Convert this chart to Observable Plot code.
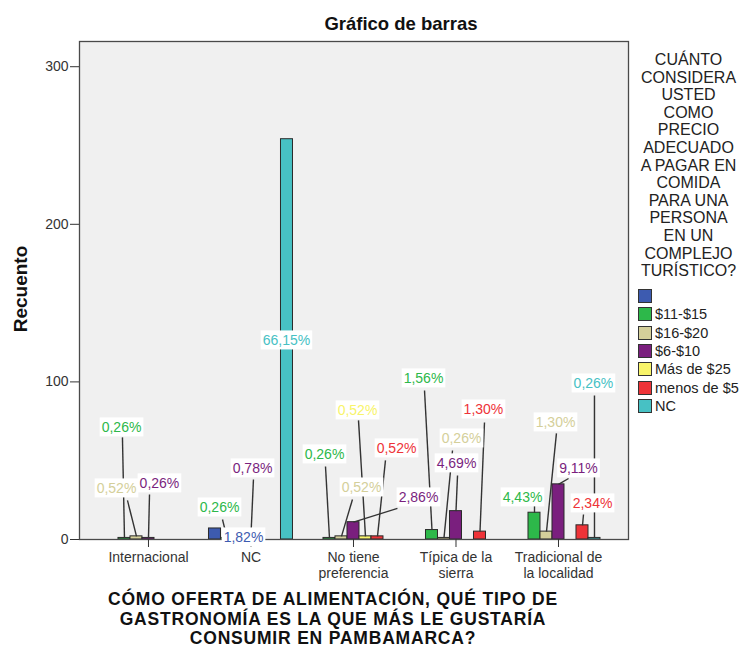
<!DOCTYPE html>
<html>
<head>
<meta charset="utf-8">
<script src="https://cdn.jsdelivr.net/npm/d3@7"></script>
<script src="https://cdn.jsdelivr.net/npm/@observablehq/plot@0.6"></script>
<style>
  body { margin: 0; background: #fff; font-family: Arial, "Liberation Sans", sans-serif; }
  #wrap { position: relative; width: 743px; height: 650px; overflow: hidden; }
  #wrap svg { position: absolute; left: 0; top: 0; }
  #title { position: absolute; left: 251px; width: 300px; top: 15px; text-align: center; font-weight: bold; font-size: 18.5px; line-height: 18.5px; color: #111; white-space: nowrap; }
  #ylab { position: absolute; left: 21px; top: 289px; transform: translate(-50%, -50%) rotate(-90deg); font-weight: bold; font-size: 19px; color: #111; white-space: nowrap; }
  #xtitle { position: absolute; left: 33px; width: 600px; top: 590px; text-align: center; font-weight: bold; font-size: 17.5px; line-height: 19.6px; letter-spacing: 0.8px; color: #111; white-space: nowrap; }
  #legend { position: absolute; left: 630px; width: 113px; top: 51px; color: #222; }
  #legend .lt { text-align: center; font-size: 16px; line-height: 17.6px; margin-left: 4px; white-space: nowrap; }
  #legend .items { position: absolute; top: 236px; left: 8px; }
  #legend .it { height: 18.3px; display: flex; align-items: center; font-size: 14.5px; white-space: nowrap; }
  #legend .sw { width: 12px; height: 12px; border: 1px solid #333; margin-right: 3px; flex: none; }
</style>
</head>
<body>
<div id="wrap">
  <div id="title">Gráfico de barras</div>
  <div id="ylab">Recuento</div>
  <div id="xtitle">CÓMO OFERTA DE ALIMENTACIÓN, QUÉ TIPO DE<br>GASTRONOMÍA ES LA QUE MÁS LE GUSTARÍA<br>CONSUMIR EN PAMBAMARCA?</div>
  <div id="legend">
    <div class="lt">CUÁNTO<br>CONSIDERA<br>USTED<br>COMO<br>PRECIO<br>ADECUADO<br>A PAGAR EN<br>COMIDA<br>PARA UNA<br>PERSONA<br>EN UN<br>COMPLEJO<br>TURÍSTICO?</div>
    <div class="items" id="items"></div>
  </div>
</div>
<script>
// ---- data ----
const categories = ["Internacional", "NC", "No tiene preferencia", "Típica de la sierra", "Tradicional de la localidad"];
const tickLabels = ["Internacional", "NC", "No tiene\npreferencia", "Típica de la\nsierra", "Tradicional de\nla localidad"];
const series = ["", "$11-$15", "$16-$20", "$6-$10", "Más de $25", "menos de $5", "NC"];
const seriesColors = ["#3d5bb0", "#2db84a", "#d4cf9a", "#7a1f7e", "#f8f46a", "#ee3338", "#47c1c4"];

// counts per series, in category order
const cntBlank  = [0, 7, 0, 0, 0];
const cnt11_15  = [1, 1, 1, 6, 17];
const cnt16_20  = [2, 0, 2, 1, 5];
const cnt6_10   = [1, 3, 11, 18, 35];
const cntMas25  = [0, 0, 2, 0, 0];
const cntMenos5 = [0, 0, 2, 5, 9];
const cntNC     = [0, 254, 0, 0, 1];
const countsBySeries = [cntBlank, cnt11_15, cnt16_20, cnt6_10, cntMas25, cntMenos5, cntNC];

const yTicks = [0, 100, 200, 300];

// ---- label layout (annotation placement, in data units) ----
// [category index, series index, label x, label y, leader end x, leader end y]
const labelLayout = [
  [0, 1, -0.263, 71.1, -0.254, 64.8],
  [0, 2, -0.312, 32.4, -0.205, 24.8],
  [0, 3,  0.107, 35.6,  0.010, 28.6],
  [1, 0,  0.927,  1.3,  null, null],
  [1, 1,  0.693, 20.3,  0.722, 12.7],
  [1, 3,  1.015, 45.1,  1.024, 38.1],
  [1, 6,  1.346, 126.3, null, null],
  [2, 1,  1.717, 54.0,  1.727, 46.3],
  [2, 4,  2.039, 81.9,  2.049, 75.6],
  [2, 5,  2.420, 57.8,  2.312, 50.2],
  [2, 2,  2.078, 33.0,  1.990, 25.4],
  [2, 3,  2.634, 26.7,  2.429, 19.7],
  [3, 1,  2.683, 102.2, 2.693, 94.6],
  [3, 5,  3.268, 82.5,  3.278, 74.3],
  [3, 2,  3.054, 64.1,  2.966, 56.5],
  [3, 3,  3.005, 48.3,  3.015, 40.6],
  [4, 6,  4.341, 99.0,  4.351, 91.4],
  [4, 2,  3.971, 74.3,  3.980, 67.3],
  [4, 3,  4.195, 45.1,  4.098, 38.7],
  [4, 1,  3.649, 26.7,  3.766, 21.6],
  [4, 5,  4.332, 22.9,  4.244, 15.9]
];

// ---- build tables ----
const SLOT = 12 / 102.5; // bar width in category units
const total = d3.sum(countsBySeries.flat());
const bars = [];
countsBySeries.forEach((arr, si) => arr.forEach((c, ci) => {
  if (c > 0) bars.push({ci, si, series: series[si], count: c,
    x1: ci + (si - 3.5) * SLOT, x2: ci + (si - 2.5) * SLOT, xc: ci + (si - 3) * SLOT});
}));
const fmt = c => (c / total * 100).toFixed(2).replace(".", ",") + "%";
const labels = labelLayout.map(([ci, si, lx, ly, ex, ey]) => {
  const c = countsBySeries[si][ci];
  return {series: series[si], text: fmt(c), lx, ly, ex, ey, bx: ci + (si - 3) * SLOT, by: c};
});
const leaders = labels.filter(d => d.ex != null);

const chart = Plot.plot({
  width: 743,
  height: 590,
  marginTop: 41,
  marginBottom: 51,
  marginLeft: 79,
  marginRight: 115,
  style: {fontFamily: "Arial, 'Liberation Sans', sans-serif", color: "#333", background: "transparent"},
  x: {type: "linear", domain: [-0.673, 4.683]},
  y: {domain: [0, 316]},
  color: {domain: series, range: seriesColors},
  marks: [
    Plot.frame({fill: "#f0f0f0"}),
    Plot.rect(bars, {x1: "x1", x2: "x2", y1: 0, y2: "count", fill: "series", stroke: "#2a2a2a", strokeWidth: 1}),
    Plot.link(leaders, {x1: "bx", y1: "by", x2: "ex", y2: "ey", stroke: "#333", strokeWidth: 1.4}),
    Plot.frame({stroke: "#4a4a4a", strokeWidth: 1.3}),
    Plot.axisY({ticks: yTicks, tickSize: 9, tickPadding: 2, fontSize: 14, label: null, stroke: "#333"}),
    Plot.axisX({ticks: [0, 1, 2, 3, 4], tickFormat: i => tickLabels[i], tickSize: 8, tickPadding: 3, fontSize: 14, lineHeight: 1.15, label: null, stroke: "#333"}),
    Plot.text(labels, {x: "lx", y: "ly", text: "text", fill: "series", fontSize: 14, className: "lbl"})
  ]
});
document.getElementById("wrap").appendChild(chart);

// white boxes behind the data labels
const NS = "http://www.w3.org/2000/svg";
chart.querySelectorAll("g.lbl text").forEach(t => {
  const b = t.getBBox();
  const r = document.createElementNS(NS, "rect");
  r.setAttribute("x", b.x - 2);
  r.setAttribute("y", b.y - 1.5);
  r.setAttribute("width", b.width + 4);
  r.setAttribute("height", b.height + 3);
  r.setAttribute("fill", "#fff");
  r.setAttribute("stroke", "none");
  const tr = t.getAttribute("transform");
  if (tr) r.setAttribute("transform", tr);
  t.parentNode.insertBefore(r, t);
});

// legend
const items = document.getElementById("items");
series.forEach((s, i) => {
  const row = document.createElement("div");
  row.className = "it";
  const sw = document.createElement("div");
  sw.className = "sw";
  sw.style.background = seriesColors[i];
  const tx = document.createElement("span");
  tx.textContent = s;
  row.appendChild(sw);
  row.appendChild(tx);
  items.appendChild(row);
});
</script>
</body>
</html>
